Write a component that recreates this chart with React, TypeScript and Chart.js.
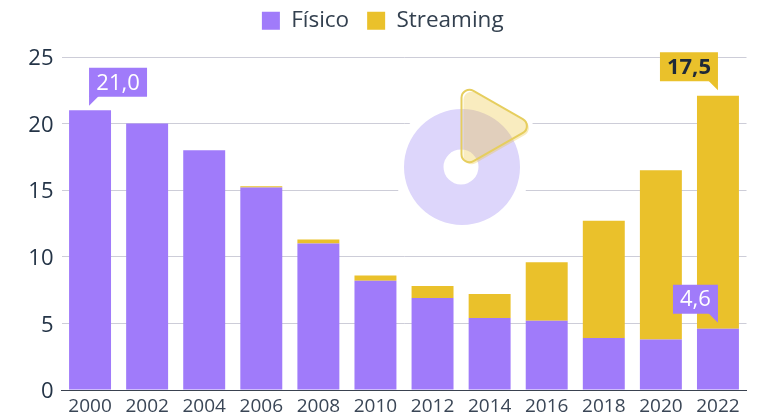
import React, { useEffect, useRef } from "react";
import { Chart, registerables } from "chart.js";

Chart.register(...registerables);

const years = ["2000","2002","2004","2006","2008","2010","2012","2014","2016","2018","2020","2022"];
const fisico = [21, 20, 18, 15.2, 11, 8.2, 6.9, 5.4, 5.2, 3.9, 3.8, 4.6];
const streaming = [0, 0, 0, 0.1, 0.3, 0.4, 0.9, 1.8, 4.4, 8.8, 12.7, 17.5];
const yTicks = [0, 5, 10, 15, 20, 25];

const PURPLE = "#A07BFA";
const YELLOW = "#EAC12B";
const INK = "#243447";
const FONT = "'Open Sans', 'Noto Sans', sans-serif";

function trianglePath(ctx: CanvasRenderingContext2D, dx = 0, dy = 0) {
  const pts = [[461.5 + dx, 84 + dy], [535 + dx, 126 + dy], [461.5 + dx, 168 + dy]];
  ctx.beginPath();
  ctx.moveTo((pts[0][0] + pts[2][0]) / 2, (pts[0][1] + pts[2][1]) / 2);
  ctx.arcTo(pts[0][0], pts[0][1], pts[1][0], pts[1][1], 8);
  ctx.arcTo(pts[1][0], pts[1][1], pts[2][0], pts[2][1], 8);
  ctx.arcTo(pts[2][0], pts[2][1], pts[0][0], pts[0][1], 8);
  ctx.closePath();
}

const legendPlacement = {
  id: "legendPlacement",
  afterLayout(chart: any) {
    const l = chart.legend;
    l.left += 9.5;
    l.right += 9.5;
    l.top -= 15;
    l.bottom -= 15;
    const s = chart.scales.y;
    if (!s.__shifted) {
      s.__shifted = true;
      const orig = s.drawLabels.bind(s);
      s.drawLabels = (area: any) => {
        s.ctx.save();
        s.ctx.translate(0, 2);
        orig(area);
        s.ctx.restore();
      };
    }
  },
};

const decor = {
  id: "decor",
  beforeDatasetsDraw(chart: any) {
    const ctx = chart.ctx as CanvasRenderingContext2D;
    ctx.save();
    ctx.fillStyle = "#fff";
    ctx.beginPath();
    ctx.arc(462, 167, 68, 0, Math.PI * 2);
    ctx.fill();
    trianglePath(ctx);
    ctx.strokeStyle = "#fff";
    ctx.lineWidth = 12;
    ctx.stroke();
    ctx.fill();
    ctx.fillStyle = "#DDD6FB";
    ctx.beginPath();
    ctx.arc(462, 167, 58, 0, Math.PI * 2);
    ctx.arc(461, 167, 17.5, 0, Math.PI * 2, true);
    ctx.fill();
    trianglePath(ctx, 2, 2);
    ctx.fillStyle = "rgba(234,193,43,0.3)";
    ctx.fill();
    trianglePath(ctx);
    ctx.strokeStyle = "#E6CE5E";
    ctx.lineWidth = 2;
    ctx.stroke();
    ctx.restore();
  },
};

const callouts = {
  id: "callouts",
  afterDatasetsDraw(chart: any) {
    const ctx = chart.ctx as CanvasRenderingContext2D;
    const x = chart.scales.x;
    const y = chart.scales.y;
    const fmt = (v: number) => v.toFixed(1).replace(".", ",");
    const box = (
      text: string, tipX: number, tipY: number, w: number, fill: string, color: string,
      right: boolean, weight: number
    ) => {
      const h = 29;
      const top = tipY - 9 - h;
      const left = right ? tipX - w : tipX;
      ctx.fillStyle = fill;
      ctx.beginPath();
      ctx.rect(left, top, w, h);
      ctx.fill();
      ctx.beginPath();
      ctx.moveTo(tipX, tipY);
      ctx.lineTo(tipX, top + h - 1);
      ctx.lineTo(right ? tipX - 10 : tipX + 10, top + h - 1);
      ctx.closePath();
      ctx.fill();
      ctx.fillStyle = color;
      ctx.font = `${weight} 22px ${FONT}`;
      ctx.textAlign = "center";
      ctx.textBaseline = "middle";
      ctx.fillText(text, left + w / 2, top + h / 2 + 1);
    };
    ctx.save();
    const last = years.length - 1;
    box(fmt(fisico[0]), x.getPixelForValue(0) - 1, y.getPixelForValue(fisico[0]) - 4.5, 58, PURPLE, "#fff", false, 500);
    box(fmt(streaming[last]), x.getPixelForValue(last), y.getPixelForValue(fisico[last] + streaming[last]) - 5.5, 58, YELLOW, "#1F2A38", true, 700);
    box(fmt(fisico[last]), x.getPixelForValue(last), y.getPixelForValue(fisico[last]) - 6, 45, PURPLE, "#fff", true, 500);
    ctx.restore();
  },
};

export default function App() {
  const ref = useRef<HTMLCanvasElement>(null);
  useEffect(() => {
    const chart = new Chart(ref.current!, {
      type: "bar",
      data: {
        labels: years,
        datasets: [
          { label: "Físico", data: fisico, backgroundColor: PURPLE, stack: "s" },
          { label: "Streaming", data: streaming, backgroundColor: YELLOW, stack: "s" },
        ],
      },
      options: {
        responsive: false,
        animation: false,
        layout: { padding: { top: 6.5, right: 16.5, bottom: 2, left: 0 } },
        datasets: { bar: { barPercentage: 1, categoryPercentage: 0.735 } },
        plugins: {
          tooltip: { enabled: false },
          legend: {
            position: "top",
            align: "center",
            labels: {
              boxWidth: 18,
              boxHeight: 18,
              color: "#33404F",
              padding: 18,
              font: { family: FONT, size: 22.5 },
            },
          },
        },
        scales: {
          x: {
            stacked: true,
            grid: { display: false, drawTicks: false },
            border: { color: "#3A4250", width: 1 },
            ticks: { color: "#3A4656", font: { family: FONT, size: 19 }, padding: 5, maxRotation: 0, autoSkip: false },
            afterFit(s: any) { s.height = 22; },
          },
          y: {
            stacked: true,
            min: 0,
            max: 25,
            afterBuildTicks(s: any) { s.ticks = yTicks.map((value) => ({ value })); },
            grid: { color: "#CDCDD8", lineWidth: 1, drawTicks: false },
            border: { display: false },
            ticks: { color: INK, font: { family: FONT, size: 22 }, padding: 8 },
            afterFit(s: any) { s.width = 61.5; },
          },
        },
      } as any,
      plugins: [legendPlacement, decor, callouts],
    });
    return () => chart.destroy();
  }, []);
  return (
    <div style={{ position: "fixed", left: 0, top: 0, width: 763, height: 414, background: "#fff" }}>
      <canvas ref={ref} width={763} height={414} style={{ display: "block" }} />
    </div>
  );
}
